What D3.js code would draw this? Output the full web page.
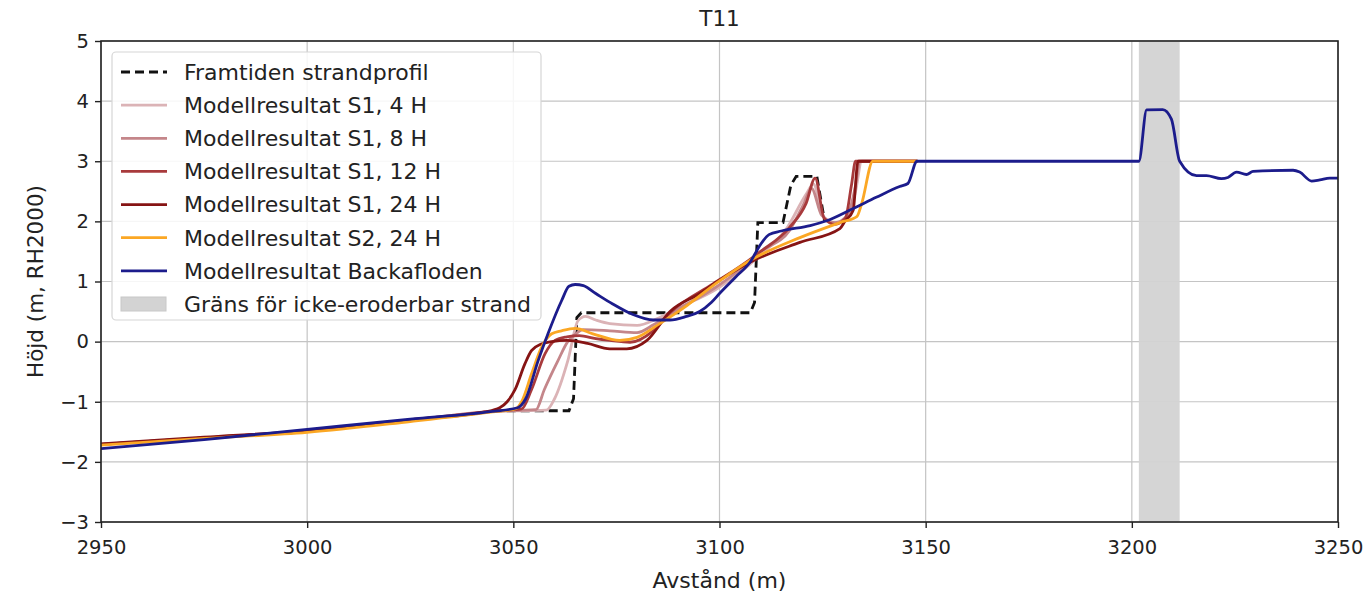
<!DOCTYPE html>
<html>
<head>
<meta charset="utf-8">
<script src="https://cdn.jsdelivr.net/npm/d3@7"></script>
<style>
  body { margin: 0; background: #fff; }
  text { font-family: "DejaVu Sans", sans-serif; fill: #222; }
</style>
</head>
<body>
<svg id="Viz"></svg>
<script>
var width = 1366,
    height = 594;

// profile data [avstand, hojd]
var framtiden = [[3045,-1.15],[3063.5,-1.15],[3064.6,-0.95],[3065.4,0.4],[3066.5,0.48],[3107.5,0.48],[3108.5,0.65],[3109.3,1.98],[3115.4,1.98],[3117.3,2.6],[3118.6,2.75],[3123.6,2.75],[3125.5,2.0]];

var s1_4h = [[2950,-1.71],[2975,-1.6],[3000,-1.49],[3025,-1.31],[3045,-1.16],[3058,-1.14],[3060,-0.95],[3063.2,-0.32],[3065.7,0.35],[3067.5,0.42],[3070,0.36],[3073.4,0.3],[3080,0.27],[3084.8,0.38],[3089.7,0.55],[3099.4,0.88],[3105,1.15],[3110,1.45],[3116,1.85],[3121,2.45],[3122.8,2.62],[3125,2.1],[3128,1.97],[3131,2.05],[3133,2.5],[3134.5,3.0],[3148,3.0]];

var s1_8h = [[2950,-1.71],[2975,-1.6],[3000,-1.49],[3025,-1.31],[3045,-1.16],[3055.5,-1.13],[3057.5,-0.8],[3060.8,-0.32],[3063.2,0.0],[3065,0.12],[3067,0.2],[3073.4,0.18],[3080,0.15],[3084,0.28],[3089,0.5],[3099,0.9],[3105,1.2],[3110,1.5],[3117,1.85],[3120.5,2.3],[3122.3,2.55],[3124.8,2.1],[3128,1.98],[3131,2.1],[3133,2.6],[3134,3.0],[3148,3.0]];

var s1_12h = [[2950,-1.71],[2975,-1.6],[3000,-1.49],[3025,-1.31],[3045,-1.16],[3052,-1.12],[3054.4,-0.8],[3057.7,-0.2],[3060.1,0.02],[3063,0.08],[3066,0.1],[3070,0.05],[3073.4,0.02],[3078.3,-0.01],[3083.9,0.18],[3088,0.48],[3098.4,0.96],[3105,1.25],[3110,1.5],[3117,1.9],[3121,2.3],[3123.2,2.72],[3125.4,2.05],[3128,1.95],[3130.5,2.05],[3132,2.6],[3133,3.0],[3148,3.0]];

var s1_24h = [[2950,-1.7],[2975,-1.59],[3000,-1.48],[3025,-1.3],[3043,-1.17],[3046.7,-1.1],[3048.5,-1.0],[3050.4,-0.8],[3052.8,-0.37],[3054.4,-0.15],[3056.8,-0.04],[3059.3,0.0],[3063,0.02],[3068,-0.03],[3073.4,-0.12],[3077.5,-0.12],[3082.4,0.02],[3088,0.5],[3095.2,0.8],[3100,1.02],[3107.4,1.32],[3119.5,1.65],[3129.2,1.88],[3130.4,2.0],[3132.4,2.18],[3133.6,3.0],[3148,3.0]];

var s2_24h = [[2950,-1.72],[2975,-1.61],[3000,-1.51],[3025,-1.33],[3045,-1.17],[3050.5,-1.12],[3052,-1.0],[3054.4,-0.54],[3056.8,-0.1],[3059.3,0.13],[3061.7,0.18],[3065,0.22],[3069.3,0.13],[3075.8,0.02],[3080,0.07],[3085.5,0.3],[3092.1,0.6],[3099.4,0.98],[3107.4,1.35],[3119.5,1.73],[3129.2,1.98],[3133.3,2.08],[3134.5,2.3],[3137.2,3.0],[3148,3.0]];

var backafloden = [[2950,-1.78],[2975,-1.63],[3000,-1.46],[3025,-1.29],[3045,-1.16],[3051,-1.1],[3053,-0.95],[3056,-0.32],[3058.4,0.13],[3061.7,0.68],[3063.5,0.92],[3065,0.95],[3067,0.93],[3070,0.8],[3074,0.63],[3079,0.45],[3084,0.36],[3088,0.36],[3092,0.42],[3095.2,0.5],[3098,0.65],[3100,0.8],[3104,1.08],[3107.4,1.32],[3110,1.62],[3112,1.78],[3115,1.84],[3122,1.93],[3126,2.01],[3132.3,2.21],[3138,2.4],[3143.7,2.58],[3145.7,2.63],[3147.9,3.0],[3201.7,3.0],[3203.6,3.855],[3207.5,3.86],[3209.6,3.7],[3211.6,3.0],[3215.7,2.76],[3218.1,2.76],[3221.7,2.71],[3223.3,2.73],[3225.4,2.82],[3227.8,2.78],[3229.4,2.83],[3239.1,2.85],[3240.7,2.82],[3243.6,2.67],[3245.6,2.69],[3248,2.72],[3250,2.72]];

var grans = [3201.7, 3211.6];

var xTicks = [2950, 3000, 3050, 3100, 3150, 3200, 3250];
var yTicks = [-3, -2, -1, 0, 1, 2, 3, 4, 5];

var series = [
  {name: "Modellresultat S1, 4 H", data: s1_4h, color: "#dbb3b6"},
  {name: "Modellresultat S1, 8 H", data: s1_8h, color: "#c4868a"},
  {name: "Modellresultat S1, 12 H", data: s1_12h, color: "#a83a3c"},
  {name: "Modellresultat S1, 24 H", data: s1_24h, color: "#861414"},
  {name: "Modellresultat S2, 24 H", data: s2_24h, color: "#fba724"},
  {name: "Modellresultat Backafloden", data: backafloden, color: "#1c1c8c"}
];

var margin = {left: 101, right: 28, top: 41, bottom: 72};

var svg = d3.select("#Viz").attr("width", width).attr("height", height);

var x = d3.scaleLinear().domain([2950, 3250]).range([margin.left, width - margin.right]);
var y = d3.scaleLinear().domain([-3, 5]).range([height - margin.bottom, margin.top]);

// grid
svg.append("g").selectAll("line").data(xTicks).enter().append("line")
  .attr("x1", d => x(d)).attr("x2", d => x(d))
  .attr("y1", y(-3)).attr("y2", y(5))
  .style("stroke", "#c4c4c4").style("stroke-width", 1.2);
svg.append("g").selectAll("line").data(yTicks).enter().append("line")
  .attr("y1", d => y(d)).attr("y2", d => y(d))
  .attr("x1", x(2950)).attr("x2", x(3250))
  .style("stroke", "#c4c4c4").style("stroke-width", 1.2);

// grey band
svg.append("rect")
  .attr("x", x(grans[0])).attr("width", x(grans[1]) - x(grans[0]))
  .attr("y", y(5)).attr("height", y(-3) - y(5))
  .attr("fill", "#d3d3d3").attr("opacity", 0.95);

var line = d3.line().x(d => x(d[0])).y(d => y(d[1])).curve(d3.curveMonotoneX);

svg.append("path").datum(framtiden)
  .attr("d", d3.line().x(d => x(d[0])).y(d => y(d[1])))
  .attr("fill", "none").style("stroke", "#111")
  .style("stroke-width", 2.8).style("stroke-dasharray", "9,5");

svg.append("g").selectAll("path").data(series).enter().append("path")
  .attr("d", d => line(d.data))
  .attr("fill", "none")
  .style("stroke", d => d.color)
  .style("stroke-width", 2.8)
  .style("stroke-linejoin", "round");

// axes
var xAxis = svg.append("g").attr("transform", "translate(0," + y(-3) + ")")
  .call(d3.axisBottom(x).tickValues(xTicks).tickSize(6).tickPadding(8).tickFormat(d3.format("d")));
var yAxis = svg.append("g").attr("transform", "translate(" + x(2950) + ",0)")
  .call(d3.axisLeft(y).tickValues(yTicks).tickSize(6).tickPadding(6).tickFormat(d => d < 0 ? "\u2212" + Math.abs(d) : d));
[xAxis, yAxis].forEach(function(a) {
  a.selectAll("text").style("font-size", "19.5px").style("font-family", "DejaVu Sans").attr("fill", "#222");
  a.selectAll("line").style("stroke", "#222").style("stroke-width", 1.4);
  a.select(".domain").remove();
});
xAxis.selectAll("text").attr("dy", "0.9em");

// frame
svg.append("rect")
  .attr("x", x(2950)).attr("y", y(5))
  .attr("width", x(3250) - x(2950)).attr("height", y(-3) - y(5))
  .attr("fill", "none").style("stroke", "#222").style("stroke-width", 1.6);

// labels
svg.append("text").attr("x", (x(2950) + x(3250)) / 2).attr("y", 26)
  .attr("text-anchor", "middle").style("font-size", "21.5px").text("T11");
svg.append("text").attr("x", (x(2950) + x(3250)) / 2).attr("y", 588)
  .attr("text-anchor", "middle").style("font-size", "22px").text("Avstånd (m)");
svg.append("text").attr("transform", "translate(43," + ((y(5) + y(-3)) / 2) + ") rotate(-90)")
  .attr("text-anchor", "middle").style("font-size", "21.5px").text("Höjd (m, RH2000)");

// legend
var lg = svg.append("g");
lg.append("rect").attr("x", 112).attr("y", 52).attr("width", 429).attr("height", 268)
  .attr("rx", 4).attr("fill", "white").attr("fill-opacity", 0.85)
  .style("stroke", "#d6d6d6").style("stroke-width", 1.2);

var entries = [{name: "Framtiden strandprofil", color: "#111", dash: true}]
  .concat(series)
  .concat([{name: "Gräns för icke-eroderbar strand", patch: true}]);

var rowY = d3.scaleLinear().domain([0, 7]).range([72, 304]);
entries.forEach(function(e, i) {
  var cy = rowY(i);
  if (e.patch) {
    lg.append("rect").attr("x", 121).attr("y", cy - 7).attr("width", 45).attr("height", 14)
      .attr("fill", "#d3d3d3").style("stroke", "#c8c8c8");
  } else {
    lg.append("line").attr("x1", 121).attr("x2", 167).attr("y1", cy).attr("y2", cy)
      .style("stroke", e.color).style("stroke-width", 2.8)
      .style("stroke-dasharray", e.dash ? "9,5" : null);
  }
  lg.append("text").attr("x", 184).attr("y", cy).attr("dy", "0.36em")
    .style("font-size", "22px").text(e.name);
});
</script>
</body>
</html>
